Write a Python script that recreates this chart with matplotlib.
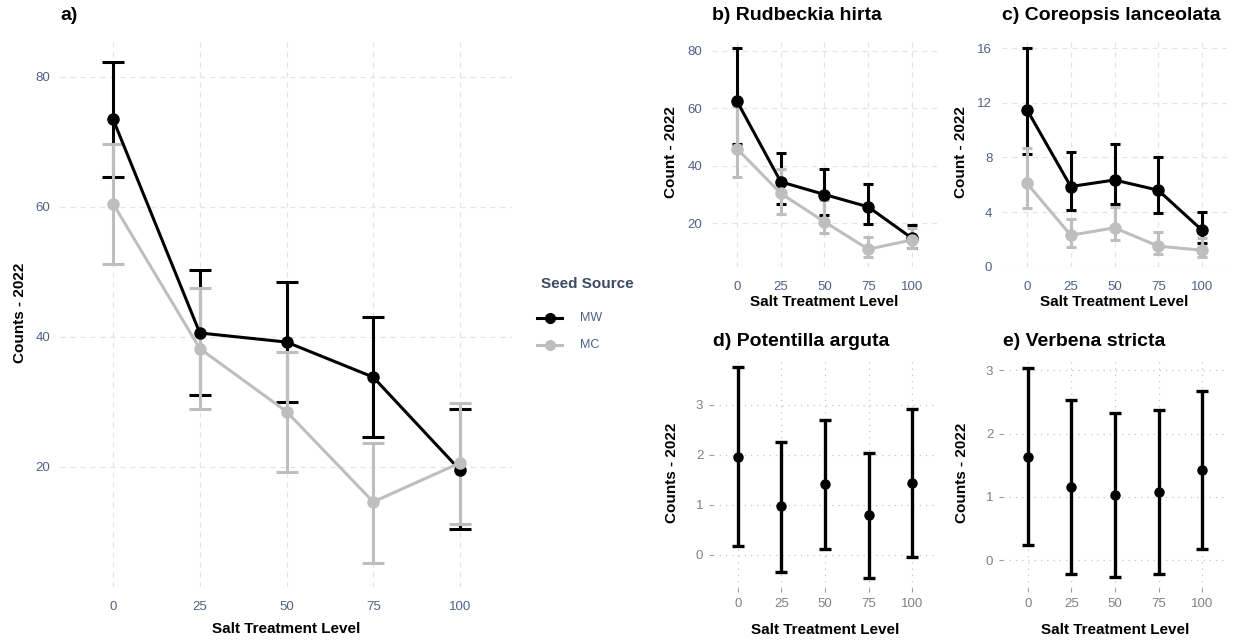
import matplotlib.pyplot as plt
from matplotlib.lines import Line2D

plt.rcParams['font.family'] = ['Liberation Sans', 'DejaVu Sans']

salt = [0, 25, 50, 75, 100]
sources = ['MW', 'MC']
source_colors = {'MW': 'black', 'MC': '#BEBEBE'}

# a) all species pooled: mean with lower / upper error bounds
a_mean = {'MW': [73.5, 40.6, 39.2, 33.8, 19.5], 'MC': [60.5, 38.2, 28.5, 14.6, 20.6]}
a_lo = {'MW': [64.6, 31.1, 30.0, 24.6, 10.5], 'MC': [51.2, 28.9, 19.2, 5.2, 11.2]}
a_hi = {'MW': [82.3, 50.3, 48.5, 43.1, 28.9], 'MC': [69.7, 47.5, 37.7, 23.7, 29.8]}

# b) Rudbeckia hirta
b_mean = {'MW': [62.4, 34.4, 30.0, 25.7, 14.8], 'MC': [45.9, 30.4, 20.5, 11.0, 14.2]}
b_lo = {'MW': [47.4, 26.7, 22.9, 19.8, 11.4], 'MC': [36.1, 23.1, 16.5, 8.4, 11.4]}
b_hi = {'MW': [80.8, 44.5, 38.8, 33.8, 19.4], 'MC': [60.9, 39.0, 28.0, 15.2, 18.3]}

# c) Coreopsis lanceolata
c_mean = {'MW': [11.5, 5.87, 6.35, 5.6, 2.67], 'MC': [6.1, 2.3, 2.84, 1.5, 1.2]}
c_lo = {'MW': [8.25, 4.12, 4.6, 3.95, 1.7], 'MC': [4.3, 1.45, 1.94, 0.92, 0.73]}
c_hi = {'MW': [16.0, 8.4, 9.0, 8.05, 4.0], 'MC': [8.7, 3.5, 4.36, 2.55, 2.06]}

# d) Potentilla arguta
d_mean = [1.95, 0.97, 1.42, 0.79, 1.44]
d_lo = [0.17, -0.35, 0.12, -0.46, -0.05]
d_hi = [3.75, 2.25, 2.70, 2.04, 2.91]

# e) Verbena stricta
e_mean = [1.63, 1.16, 1.03, 1.08, 1.42]
e_lo = [0.24, -0.22, -0.27, -0.22, 0.17]
e_hi = [3.04, 2.53, 2.33, 2.37, 2.68]

W, H = 1241, 641
fig = plt.figure(figsize=(W / 100, H / 100), dpi=100)

TICK_BLUE = '#4E6185'
TICK_GRAY = '#808080'


def add_panel(left, top, right, bottom):
    return fig.add_axes([left / W, 1 - bottom / H, (right - left) / W, (bottom - top) / H])


def style_minimal(ax, yticks, ylim, xlim, tick_color, dotted=False):
    ax.set_xlim(*xlim)
    ax.set_ylim(*ylim)
    ax.set_xticks(salt)
    ax.set_yticks(yticks)
    for s in ax.spines.values():
        s.set_visible(False)
    if dotted:
        ax.grid(True, color='#C4C4C4', lw=0.9, linestyle=(0, (1, 4)))
        ax.tick_params(length=3, width=0.8, color='#9A9A9A', labelsize=9.5,
                       labelcolor=tick_color, pad=4)
    else:
        ax.grid(True, color='#E3E3E3', lw=0.9, linestyle=(0, (4, 4)))
        ax.tick_params(length=0, labelsize=9.5, labelcolor=tick_color)
        ax.tick_params(axis='x', pad=10)
        ax.tick_params(axis='y', pad=7)
    ax.set_axisbelow(True)


def draw_sources(ax, mean, lo, hi, capsize, ms):
    for src in sources:
        err = [[m - l for m, l in zip(mean[src], lo[src])],
               [h - m for m, h in zip(mean[src], hi[src])]]
        ax.errorbar(salt, mean[src], yerr=err, fmt='none', ecolor=source_colors[src],
                    elinewidth=2.2, capsize=capsize, capthick=2.2, zorder=2)
    for src in sources:
        ax.plot(salt, mean[src], color=source_colors[src], lw=2.2, zorder=3)
    for src in sources:
        ax.plot(salt, mean[src], 'o', color=source_colors[src], ms=ms, zorder=4)


def draw_single(ax, mean, lo, hi):
    err = [[m - l for m, l in zip(mean, lo)], [h - m for m, h in zip(mean, hi)]]
    ax.errorbar(salt, mean, yerr=err, fmt='o', color='black', ms=6.5,
                elinewidth=2.4, capsize=4, capthick=2.4, zorder=3)


# a) pooled counts
ax_a = add_panel(60, 38, 512, 587)
style_minimal(ax_a, [20, 40, 60, 80], (1.5, 86), (-15.3, 115), TICK_BLUE)
draw_sources(ax_a, a_mean, a_lo, a_hi, capsize=8, ms=8)
ax_a.set_xlabel('Salt Treatment Level', fontsize=11, fontweight='bold')
ax_a.set_ylabel('Counts - 2022', fontsize=11, fontweight='bold')
ax_a.xaxis.set_label_coords(0.5, -(622 - 587) / 549)
ax_a.yaxis.set_label_coords(-(60 - 27) / 452, 0.5)
fig.text(60 / W, 1 - 16 / H, 'a)', fontsize=14, fontweight='bold', va='center', ha='left')

# seed source legend, laid out in figure pixels
fig.text(541 / W, 1 - 284 / H, 'Seed Source', fontsize=11, fontweight='bold',
         color='#3C4A63', va='center', ha='left')
for i, src in enumerate(sources):
    ky = 1 - (318 + 27 * i) / H
    fig.add_artist(Line2D([537 / W, 562 / W], [ky, ky], color=source_colors[src], lw=2.2,
                          transform=fig.transFigure))
    fig.add_artist(Line2D([549.5 / W], [ky], marker='o', ms=7, color=source_colors[src],
                          transform=fig.transFigure))
    fig.text(580 / W, ky, src, fontsize=9, color=TICK_BLUE, va='center', ha='left')


def small_panel(left, top, right, bottom, title, title_y, ylabel, yticks, ylim,
                tick_color, dotted):
    ax = add_panel(left, top, right, bottom)
    style_minimal(ax, yticks, ylim, (-14.3, 114.3), tick_color, dotted=dotted)
    ax.set_xlabel('Salt Treatment Level', fontsize=11, fontweight='bold')
    ax.set_ylabel(ylabel, fontsize=11, fontweight='bold')
    h = bottom - top
    ax.xaxis.set_label_coords(0.5, -(28 if not dotted else 35) / h)
    ax.yaxis.set_label_coords(-34 / (right - left), 0.5)
    fig.text(left / W, 1 - title_y / H, title, fontsize=14, fontweight='bold',
             va='center', ha='left')
    return ax


ax_b = small_panel(712, 38, 937, 267, 'b) Rudbeckia hirta', 16, 'Count - 2022',
                   [20, 40, 60, 80], (4.8, 84.4), TICK_BLUE, False)
draw_sources(ax_b, b_mean, b_lo, b_hi, capsize=3.8, ms=8)

ax_c = small_panel(1002, 38, 1227, 267, 'c) Coreopsis lanceolata', 16, 'Count - 2022',
                   [0, 4, 8, 12, 16], (-0.03, 16.76), TICK_BLUE, False)
draw_sources(ax_c, c_mean, c_lo, c_hi, capsize=3.8, ms=8)

ax_d = small_panel(713, 357, 937, 588, 'd) Potentilla arguta', 341, 'Counts - 2022',
                   [0, 1, 2, 3], (-0.67, 3.96), TICK_GRAY, True)
draw_single(ax_d, d_mean, d_lo, d_hi)

ax_e = small_panel(1003, 357, 1227, 588, 'e) Verbena stricta', 341, 'Counts - 2022',
                   [0, 1, 2, 3], (-0.44, 3.21), TICK_GRAY, True)
draw_single(ax_e, e_mean, e_lo, e_hi)

fig.savefig('out.png', dpi=100, facecolor='white')
